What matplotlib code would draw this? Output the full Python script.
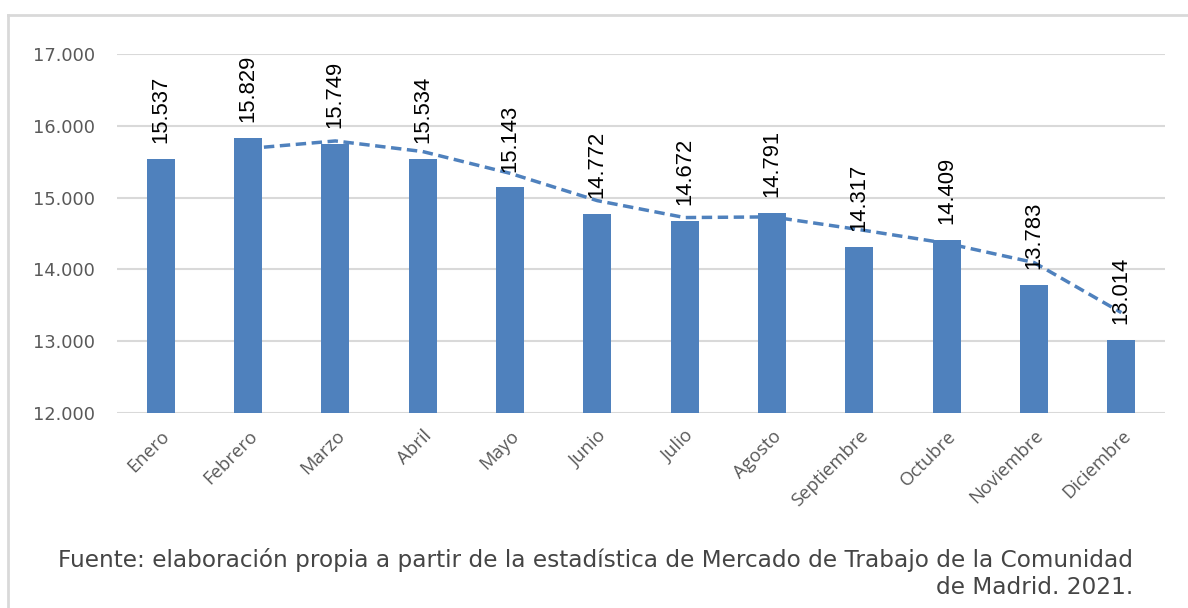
import matplotlib.pyplot as plt
import numpy as np
import pandas as pd
from matplotlib.lines import Line2D
from matplotlib.transforms import ScaledTranslation

meses = ['Enero', 'Febrero', 'Marzo', 'Abril', 'Mayo', 'Junio', 'Julio',
         'Agosto', 'Septiembre', 'Octubre', 'Noviembre', 'Diciembre']
valores = [15537, 15829, 15749, 15534, 15143, 14772, 14672,
           14791, 14317, 14409, 13783, 13014]
ticks_y = [12000, 13000, 14000, 15000, 16000, 17000]

azul = '#4f81bd'

# media movil de 2 periodos (linea de tendencia)
media = pd.Series(valores).rolling(2).mean()

W, H = 1188, 608
fig = plt.figure(figsize=(W / 100, H / 100), dpi=100)
ax = fig.add_axes([117 / W, 1 - 413 / H, (1165 - 117) / W, (413 - 54) / H])

x = np.arange(len(meses))
ax.bar(x, valores, width=0.32, color=azul, zorder=2)
ax.plot(x, media, color=azul, lw=2.5, ls=(0, (3, 1.6)), zorder=3)

for xi, v in zip(x, valores):
    etiqueta = f'{v / 1000:.3f}'
    ax.text(xi, v + 220, etiqueta, rotation=90, ha='center', va='bottom',
            fontsize=15.8, family='Liberation Sans', color='black', zorder=4)

ax.set_xlim(-0.5, len(meses) - 0.5)
ax.set_ylim(12000, 17000)
ax.set_yticks(ticks_y)
ax.set_yticklabels([f'{t // 1000}.000' for t in ticks_y], fontsize=12.8,
                   color='#595959')
ax.set_xticks(x)
ax.set_xticklabels(meses, rotation=45, ha='right', rotation_mode='anchor',
                   fontsize=13.3, family='Open Sans', color='#595959')
desplaza = ScaledTranslation(3 / 100, 0, fig.dpi_scale_trans)
for lab in ax.get_xticklabels():
    lab.set_transform(lab.get_transform() + desplaza)
ax.tick_params(axis='y', length=0, pad=16)
ax.tick_params(axis='x', length=0, pad=10)
ax.grid(axis='y', color='#d9d9d9', lw=1.5, zorder=0)
for s in ax.spines.values():
    s.set_visible(False)

# marco exterior (solo arriba e izquierda visibles)
fig.lines.append(Line2D([8 / W, 1.0], [1 - 15 / H, 1 - 15 / H],
                        transform=fig.transFigure, color='#d9d9d9', lw=2))
fig.lines.append(Line2D([8 / W, 8 / W], [0.0, 1 - 15 / H],
                        transform=fig.transFigure, color='#d9d9d9', lw=2))

fig.text(1133 / W, 1 - 560 / H,
         'Fuente: elaboración propia a partir de la estadística de Mercado de Trabajo de la Comunidad',
         ha='right', va='center', fontsize=16.7, color='#454545')
fig.text(1133 / W, 1 - 587 / H, 'de Madrid. 2021.',
         ha='right', va='center', fontsize=16.7, color='#454545')

fig.savefig('out.png', dpi=100)
